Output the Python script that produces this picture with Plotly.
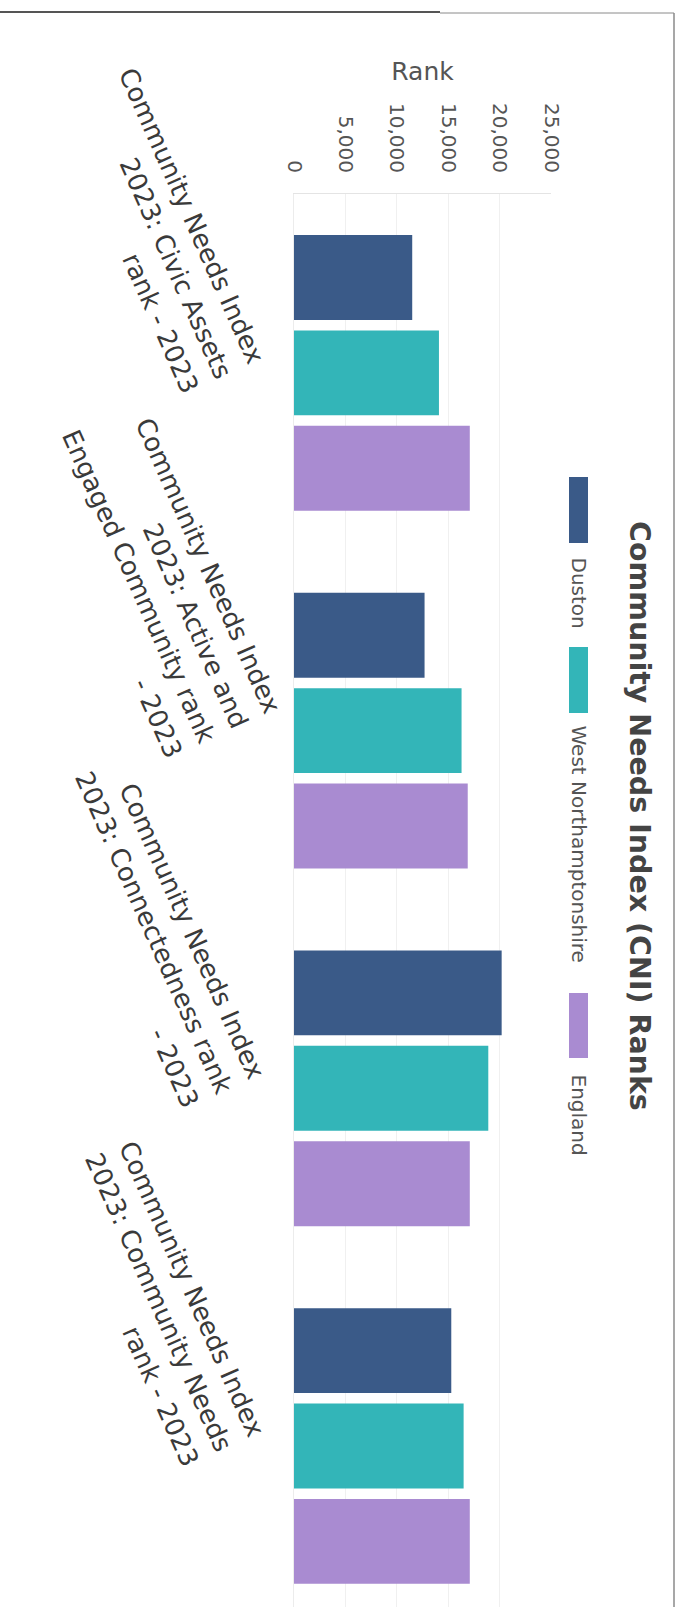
import math
import plotly.graph_objects as go

# ---------------- data ----------------
categories = [
    "Community Needs Index 2023: Civic Assets rank - 2023",
    "Community Needs Index 2023: Active and Engaged Community rank - 2023",
    "Community Needs Index 2023: Connectedness rank - 2023",
    "Community Needs Index 2023: Community Needs rank - 2023",
]
category_label_lines = [
    ["Community Needs Index", "2023: Civic Assets", "rank - 2023"],
    ["Community Needs Index", "2023: Active and", "Engaged Community rank", "- 2023"],
    ["Community Needs Index", "2023: Connectedness rank", "- 2023"],
    ["Community Needs Index", "2023: Community Needs", "rank - 2023"],
]
series_names = ["Duston", "West Northamptonshire", "England"]
duston = [11500, 12700, 20200, 15300]
west_northamptonshire = [14100, 16300, 18900, 16500]
england = [17100, 16900, 17100, 17100]
tick_values = [0, 5000, 10000, 15000, 20000, 25000]
tick_labels = ["0", "5,000", "10,000", "15,000", "20,000", "25,000"]
chart_title = "Community Needs Index (CNI) Ranks"
axis_title = "Rank"

# ---------------- style / layout ----------------
colors = ["#3a5a88", "#33b5b8", "#a98bd1"]
W, H = 683, 1607
L, R, T = 294, 551, 194
FONT = "DejaVu Sans"


def px_x(px):
    return (px - L) / (R - L)


def px_y(py):
    return 1 - (py - T) / (H - T)


fig = go.Figure()
for name, vals, col in zip(series_names, [duston, west_northamptonshire, england], colors):
    fig.add_trace(go.Bar(
        x=vals, y=categories, orientation="h", name=name,
        marker=dict(color=col, line=dict(width=0)),
        showlegend=False,
    ))

annotations = []

# category labels (rotated, right-aligned lines)
ANGLE = 66
theta = math.radians(ANGLE)
d_sin, d_cos = math.sin(theta), math.cos(theta)
nx, ny = -d_sin, d_cos
spacing = 36
box_half = 18
anchor_x = 224
anchor_dy = 5
for cat, lines in zip(categories, category_label_lines):
    mid = (len(lines) - 1) / 2
    for j, line in enumerate(lines):
        ex = anchor_x + (j - mid) * spacing * nx
        ey = anchor_dy + (j - mid) * spacing * ny
        px = ex + box_half * d_sin
        py = ey + box_half * d_cos
        annotations.append(dict(
            text=line, x=0, xref="paper", y=cat, yref="y",
            xshift=px - L, yshift=-py,
            xanchor="right", yanchor="bottom",
            textangle=ANGLE, showarrow=False,
            font=dict(family=FONT, size=26, color="#3a3a3a"),
        ))

# title
annotations.append(dict(
    text="<b>" + chart_title + "</b>", x=px_x(640), y=px_y(816),
    xref="paper", yref="paper", xanchor="center", yanchor="middle",
    textangle=90, showarrow=False,
    font=dict(family=FONT, size=28.5, color="#444444"),
))

# legend (rotated)
swatch_spans = [(477, 543), (647, 713), (993, 1058)]
text_starts = [555, 723, 1072]
shapes = []
for name, col, (y0, y1), ts in zip(series_names, colors, swatch_spans, text_starts):
    shapes.append(dict(type="rect", xref="paper", yref="paper",
                       x0=px_x(569), x1=px_x(588), y0=px_y(y1), y1=px_y(y0),
                       fillcolor=col, line=dict(width=0)))
    annotations.append(dict(
        text=name, x=px_x(579), y=px_y(ts), xref="paper", yref="paper",
        xanchor="center", yanchor="top", textangle=90, showarrow=False,
        font=dict(family=FONT, size=20, color="#555555"),
    ))

# page frame lines (scan border)
shapes.append(dict(type="line", xref="paper", yref="paper",
                   x0=px_x(0), x1=px_x(440), y0=px_y(12), y1=px_y(12),
                   line=dict(color="#555555", width=2)))
shapes.append(dict(type="line", xref="paper", yref="paper",
                   x0=px_x(440), x1=px_x(674), y0=px_y(13), y1=px_y(13),
                   line=dict(color="#8a8a8a", width=1)))
shapes.append(dict(type="line", xref="paper", yref="paper",
                   x0=px_x(674), x1=px_x(674), y0=px_y(13), y1=px_y(H),
                   line=dict(color="#8a8a8a", width=1.5)))

fig.update_layout(
    width=W, height=H,
    margin=dict(l=L, r=W - R, t=T, b=0, pad=0),
    paper_bgcolor="white", plot_bgcolor="white",
    barmode="group", bargap=0.2, bargroupgap=0.11,
    showlegend=False,
    annotations=annotations, shapes=shapes,
    xaxis=dict(
        side="top", range=[0, 25000], tickvals=tick_values, ticktext=tick_labels,
        tickangle=90, ticks="", ticklabelstandoff=13,
        tickfont=dict(family=FONT, size=20, color="#555555"),
        showgrid=True, gridcolor="#f0f0f0", gridwidth=1,
        showline=True, linecolor="#e4e4e4", zeroline=False,
        title=dict(text=axis_title, standoff=15,
                   font=dict(family=FONT, size=25, color="#555555")),
    ),
    yaxis=dict(
        type="category", range=[3.45, -0.5], showticklabels=False,
        showgrid=False, zeroline=False, showline=True, linecolor="#ececec",
        ticks="",
    ),
)

fig.write_html(
    "out.html",
    config={"displayModeBar": False},
    post_script="document.body.style.margin='0';document.body.style.overflow='hidden';",
)
